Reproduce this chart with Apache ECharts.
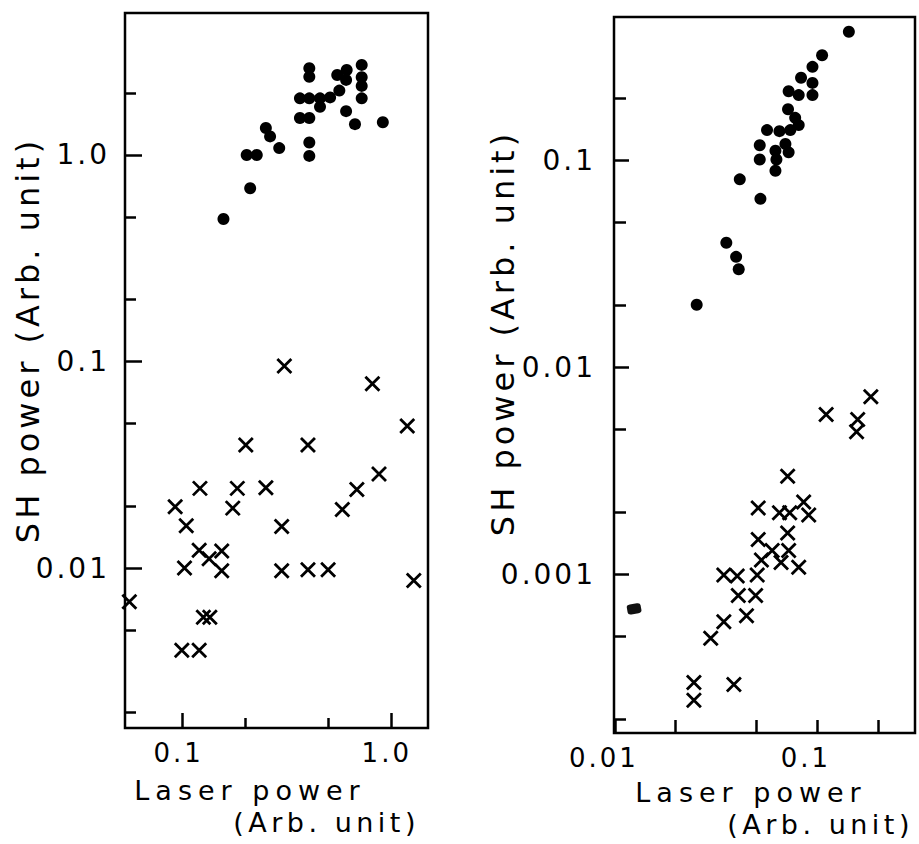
<!DOCTYPE html>
<html>
<head>
<meta charset="utf-8">
<title>SH power vs laser power</title>
<script src="https://cdn.jsdelivr.net/npm/echarts@6/dist/echarts.min.js"></script>
<style>
  html, body { margin: 0; padding: 0; background: #fff; }
  #main { width: 919px; height: 844px; }
</style>
</head>
<body>
<div id="main"></div>
<script>
// data
var leftDots = [
  [0.157, 0.49], [0.211, 0.69], [0.203, 1.0], [0.227, 1.0], [0.251, 1.35],
  [0.263, 1.23], [0.291, 1.08], [0.366, 1.88], [0.406, 1.88], [0.366, 1.51],
  [0.406, 1.51], [0.406, 2.63], [0.406, 2.39], [0.406, 1.15], [0.406, 0.99],
  [0.457, 1.88], [0.457, 1.71], [0.511, 1.90], [0.566, 2.05], [0.553, 2.44],
  [0.614, 2.58], [0.61, 2.31], [0.61, 1.63], [0.673, 1.41], [0.725, 2.73],
  [0.725, 2.38], [0.725, 2.16], [0.725, 1.88], [0.916, 1.44]
];
var leftCrosses = [
  [0.308, 0.095], [0.816, 0.078], [1.20, 0.0487], [0.201, 0.0394], [0.40, 0.0394],
  [0.121, 0.0243], [0.183, 0.0243], [0.251, 0.0245], [0.092, 0.0198], [0.174, 0.0195],
  [0.104, 0.016], [0.299, 0.0159], [0.585, 0.0192], [0.687, 0.024], [0.878, 0.0285],
  [0.12, 0.0122], [0.134, 0.0111], [0.154, 0.0121], [0.102, 0.0100], [0.154, 0.0097],
  [0.299, 0.0097], [0.40, 0.0098], [0.50, 0.0098], [1.29, 0.0087], [0.0554, 0.00687],
  [0.1257, 0.00577], [0.135, 0.00577], [0.099, 0.0040], [0.12, 0.0040]
];
var rightDots = [
  [0.1438, 0.417], [0.106, 0.321], [0.095, 0.282], [0.095, 0.236], [0.095, 0.206],
  [0.0834, 0.250], [0.0812, 0.206], [0.0724, 0.215], [0.0719, 0.176], [0.078, 0.16],
  [0.0812, 0.1476], [0.0738, 0.1396], [0.0652, 0.138], [0.0566, 0.1396], [0.0698, 0.1195],
  [0.0724, 0.109], [0.0623, 0.111], [0.063, 0.1007], [0.0623, 0.0888], [0.0521, 0.118],
  [0.0521, 0.1007], [0.0415, 0.0807], [0.0525, 0.065], [0.0356, 0.0399], [0.0398, 0.0341],
  [0.041, 0.0297], [0.0254, 0.02]
];
var rightCrosses = [
  [0.1847, 0.0072], [0.111, 0.0059], [0.159, 0.00559], [0.157, 0.00487], [0.0716, 0.00297],
  [0.0512, 0.00209], [0.0652, 0.00198], [0.0733, 0.00198], [0.0859, 0.00223], [0.091, 0.00193],
  [0.0716, 0.00158], [0.0512, 0.00147], [0.06, 0.0013], [0.0531, 0.00117], [0.0664, 0.00114],
  [0.0724, 0.0013], [0.0812, 0.00108], [0.0506, 0.00099], [0.0346, 0.00099], [0.0403, 0.00098],
  [0.0408, 0.00079], [0.0497, 0.00079], [0.0448, 0.00063], [0.0346, 0.00059], [0.0298, 0.00049],
  [0.0246, 0.0003], [0.0246, 0.000246], [0.0388, 0.000293]
];
// ink smudge on the right panel
var rightSmudge = [[0.01245, 0.00068]];

// ticks and labels
var leftXMajor = [0.1, 1];
var leftXMinor = [0.2, 0.5];
var leftXLabels = ['0.1', '1.0'];
var leftYMajor = [0.01, 0.1, 1];
var leftYMinor = [0.002, 0.005, 0.02, 0.05, 0.2, 0.5, 2];
var leftYLabels = ['0.01', '0.1', '1.0'];
var rightXMajor = [0.01, 0.1];
var rightXMinor = [0.02, 0.05, 0.2];
var rightXLabels = ['0.01', '0.1'];
var rightYMajor = [0.001, 0.01, 0.1];
var rightYMinor = [0.0002, 0.0005, 0.002, 0.005, 0.02, 0.05, 0.2];
var rightYLabels = ['0.001', '0.01', '0.1'];

var myChart = echarts.init(document.getElementById('main'), null, { renderer: 'svg' });

var tickFont = 'DejaVu Sans';
var crossPath = 'path://M0 0L10 10M10 0L0 10';

function labelFor(values, labels) {
  return function (v) {
    for (var i = 0; i < values.length; i++) {
      if (Math.abs(Math.log10(v / values[i])) < 0.01) return labels[i];
    }
    return '';
  };
}

// one axis carries the decade ticks and labels, a twin carries the 2 and 5 ticks
function axis(grid, pos, min, max, ticks, len, labels, labelValues, labelOpt) {
  var a = {
    type: 'log',
    gridIndex: grid,
    position: pos,
    min: min,
    max: max,
    axisLine: { show: false },
    splitLine: { show: false },
    axisTick: {
      show: true,
      inside: true,
      length: len,
      customValues: ticks,
      lineStyle: { color: '#000', width: 2.5 }
    },
    axisLabel: { show: false }
  };
  if (labels) {
    a.axisLabel = Object.assign({
      show: true,
      customValues: labelValues,
      formatter: labelFor(labelValues, labels),
      color: '#000',
      fontFamily: tickFont,
      fontSize: 28
    }, labelOpt);
  }
  return a;
}

var nameFont = '27px "DejaVu Sans"';

option = {
  animation: false,
  backgroundColor: '#fff',
  grid: [
    { left: 125, top: 13, width: 303, height: 715, show: true, borderColor: '#000', borderWidth: 2.5, backgroundColor: 'transparent' },
    { left: 614, top: 17, width: 301, height: 716, show: true, borderColor: '#000', borderWidth: 2.5, backgroundColor: 'transparent' }
  ],
  xAxis: [
    axis(0, 'bottom', 0.0528, 1.51, leftXMajor, 15, leftXLabels, leftXMajor, { margin: 12, fontSize: 26, padding: [0, 8, 0, 0] }),
    axis(0, 'bottom', 0.0528, 1.51, leftXMinor, 10),
    axis(1, 'bottom', 0.0099, 0.3055, rightXMajor, 13, rightXLabels, rightXMajor, { margin: 12, fontSize: 26, padding: [0, 22, 0, 0] }),
    axis(1, 'bottom', 0.0099, 0.3055, rightXMinor, 13)
  ],
  yAxis: [
    axis(0, 'left', 0.00168, 4.87, leftYMajor, 17, leftYLabels, leftYMajor, { margin: 15 }),
    axis(0, 'left', 0.00168, 4.87, leftYMinor, 11),
    axis(1, 'left', 0.000171, 0.491, rightYMajor, 15, rightYLabels, rightYMajor, { margin: 18 }),
    axis(1, 'left', 0.000171, 0.491, rightYMinor, 12)
  ],
  graphic: [
    { type: 'text', x: 28, y: 340, rotation: Math.PI / 2,
      style: { text: 'SH power (Arb. unit)', fill: '#000', font: '32px "DejaVu Sans"', textAlign: 'center', textVerticalAlign: 'middle' } },
    { type: 'text', x: 503, y: 333, rotation: Math.PI / 2,
      style: { text: 'SH power (Arb. unit)', fill: '#000', font: '32px "DejaVu Sans"', textAlign: 'center', textVerticalAlign: 'middle' } },
    { type: 'text', x: 250, y: 790,
      style: { text: 'Laser power', fill: '#000', font: nameFont, textAlign: 'center', textVerticalAlign: 'middle' } },
    { type: 'text', x: 420, y: 822,
      style: { text: '(Arb. unit)', fill: '#000', font: nameFont, textAlign: 'right', textVerticalAlign: 'middle' } },
    { type: 'text', x: 751, y: 792,
      style: { text: 'Laser power', fill: '#000', font: nameFont, textAlign: 'center', textVerticalAlign: 'middle' } },
    { type: 'text', x: 914, y: 824,
      style: { text: '(Arb. unit)', fill: '#000', font: nameFont, textAlign: 'right', textVerticalAlign: 'middle' } }
  ],
  series: [
    {
      name: 'left dots', type: 'scatter', xAxisIndex: 0, yAxisIndex: 0,
      symbol: 'circle', symbolSize: 12, itemStyle: { color: '#000', opacity: 1 },
      data: leftDots
    },
    {
      name: 'left crosses', type: 'scatter', xAxisIndex: 0, yAxisIndex: 0,
      symbol: crossPath, symbolSize: 14,
      itemStyle: { color: 'none', borderColor: '#000', borderWidth: 2.8, opacity: 1 },
      data: leftCrosses
    },
    {
      name: 'right dots', type: 'scatter', xAxisIndex: 2, yAxisIndex: 2,
      symbol: 'circle', symbolSize: 12, itemStyle: { color: '#000', opacity: 1 },
      data: rightDots
    },
    {
      name: 'right crosses', type: 'scatter', xAxisIndex: 2, yAxisIndex: 2,
      symbol: crossPath, symbolSize: 14,
      itemStyle: { color: 'none', borderColor: '#000', borderWidth: 2.8, opacity: 1 },
      data: rightCrosses
    },
    {
      name: 'smudge', type: 'scatter', xAxisIndex: 2, yAxisIndex: 2,
      symbol: 'roundRect', symbolSize: [14, 10], symbolRotate: 10,
      itemStyle: { color: '#111', opacity: 1 },
      data: rightSmudge
    }
  ]
};

myChart.setOption(option);

// the scanned lettering is widely spaced
var spacing = { 'Laser power': 6, '(Arb. unit)': 4.5, 'SH power (Arb. unit)': 4 };
function spaceText() {
  var texts = document.querySelectorAll('#main text');
  for (var i = 0; i < texts.length; i++) {
    var s = spacing[texts[i].textContent];
    texts[i].setAttribute('letter-spacing', (s === undefined ? 3 : s) + 'px');
  }
}
myChart.on('finished', spaceText);
spaceText();
</script>
</body>
</html>
